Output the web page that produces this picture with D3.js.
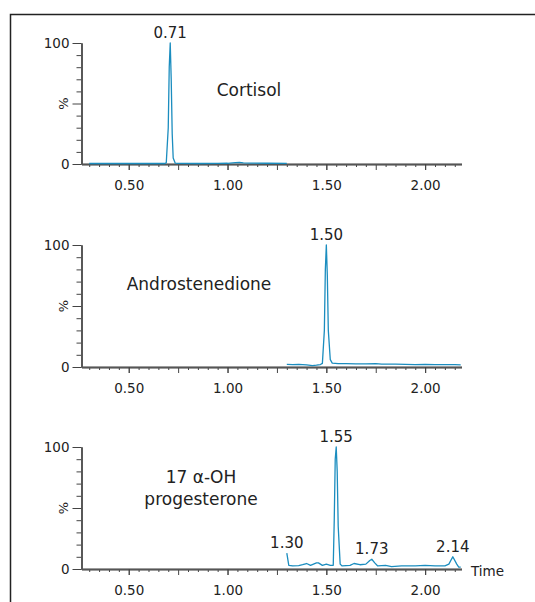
<!DOCTYPE html>
<html>
<head>
<meta charset="utf-8">
<script src="https://cdn.jsdelivr.net/npm/d3@7"></script>
<style>
  body { margin: 0; background: #fff; }
  text { font-family: "DejaVu Sans", Verdana, sans-serif; fill: #222; }
</style>
</head>
<body>
<div id="chart"></div>
<script>
// retention times (min) and relative intensity (%)
const cortisolTime = [0.30, 0.40, 0.50, 0.60, 0.68, 0.69, 0.70, 0.705, 0.71, 0.715, 0.72, 0.725, 0.735, 0.75, 0.85, 0.95, 1.00, 1.04, 1.06, 1.08, 1.12, 1.20, 1.30];
const cortisolPct  = [0.4, 0.4, 0.4, 0.4, 0.4, 1, 30, 80, 100, 70, 25, 5, 0.8, 0.5, 0.4, 0.5, 0.6, 1.1, 1.4, 1.0, 0.8, 0.6, 0.5];

const androTime = [1.30, 1.33, 1.36, 1.40, 1.43, 1.45, 1.47, 1.48, 1.49, 1.495, 1.50, 1.505, 1.51, 1.52, 1.53, 1.56, 1.60, 1.65, 1.70, 1.75, 1.78, 1.85, 1.90, 1.95, 2.00, 2.05, 2.10, 2.15, 2.18];
const androPct  = [2.2, 2.0, 2.1, 1.8, 1.2, 1.5, 2.0, 3, 30, 80, 100, 75, 30, 6, 3.2, 2.8, 2.7, 2.6, 2.5, 2.8, 2.4, 2.3, 2.2, 2.0, 2.1, 2.0, 1.9, 1.9, 1.8];

const ohpTime = [1.30, 1.31, 1.33, 1.36, 1.38, 1.40, 1.42, 1.45, 1.46, 1.48, 1.50, 1.52, 1.535, 1.54, 1.545, 1.55, 1.555, 1.56, 1.57, 1.58, 1.62, 1.64, 1.67, 1.70, 1.72, 1.73, 1.745, 1.76, 1.80, 1.83, 1.88, 1.95, 2.00, 2.05, 2.10, 2.12, 2.14, 2.16, 2.17, 2.18];
const ohpPct  = [13, 3, 2.5, 2.8, 3.5, 4.5, 3, 5, 5, 3, 4, 3, 3, 40, 90, 100, 80, 35, 4, 2.5, 3, 4.5, 3.5, 4, 7, 8, 5, 2.5, 3, 2, 2.5, 2.5, 3, 2.5, 2.5, 4, 10, 4, 1.5, 1.5];

// labelled peaks
const cortisolPeaks = [{t: 0.71, v: 100}];
const androPeaks = [{t: 1.50, v: 100}];
const ohpPeaks = [{t: 1.30, v: 13}, {t: 1.55, v: 100}, {t: 1.73, v: 8}, {t: 2.14, v: 10}];

const xLabelTicks = [0.5, 1.0, 1.5, 2.0];
const yLabelTicks = [0, 100];

const W = 535, H = 602;
const svg = d3.select("#chart").append("svg")
  .attr("width", W).attr("height", H);

// outer frame (continues past the window on right and bottom)
svg.append("rect")
  .attr("x", 10.5).attr("y", 14.5)
  .attr("width", 600).attr("height", 700)
  .attr("fill", "none").attr("stroke", "#222").attr("stroke-width", 1.5);

const x = d3.scaleLinear().domain([0.261, 2.184]).range([81.5, 461.5]);

const minorX = d3.range(6, 44).map(d => d * 0.05).filter(d => Math.abs(d / 0.25 - Math.round(d / 0.25)) > 1e-6);
const majorX = d3.range(2, 9).map(d => d * 0.25);
const minorY = d3.range(10, 100, 10).filter(d => d !== 50);

const panels = [
  {time: cortisolTime, pct: cortisolPct, peaks: cortisolPeaks, top: 43, bottom: 164,
   name: ["Cortisol"], nameX: 249, nameY: 96},
  {time: androTime, pct: androPct, peaks: androPeaks, top: 245, bottom: 367,
   name: ["Androstenedione"], nameX: 199, nameY: 290},
  {time: ohpTime, pct: ohpPct, peaks: ohpPeaks, top: 447, bottom: 569,
   name: ["17 α-OH", "progesterone"], nameX: 201, nameY: 483, time_label: true}
];

panels.forEach(p => {
  const y = d3.scaleLinear().domain([0, 100]).range([p.bottom, p.top]);
  const g = svg.append("g");

  // x axis: minor, major and labelled ticks
  const gx = g.append("g").attr("transform", `translate(0,${p.bottom})`);
  gx.append("g").call(d3.axisBottom(x).tickValues(minorX).tickSize(3).tickSizeOuter(0).tickFormat(""));
  gx.append("g").call(d3.axisBottom(x).tickValues(majorX).tickSize(6).tickSizeOuter(0).tickFormat(""));
  gx.append("g").call(d3.axisBottom(x).tickValues(xLabelTicks).tickSize(6).tickSizeOuter(0)
      .tickPadding(10).tickFormat(d3.format(".2f")));

  // y axis
  const gy = g.append("g").attr("transform", `translate(${x.range()[0]},0)`);
  gy.append("g").call(d3.axisLeft(y).tickValues(minorY).tickSize(5).tickSizeOuter(0).tickFormat(""));
  gy.append("g").call(d3.axisLeft(y).tickValues([50]).tickSize(9).tickSizeOuter(0).tickFormat(""));
  gy.append("g").call(d3.axisLeft(y).tickValues(yLabelTicks).tickSize(9).tickSizeOuter(0).tickPadding(3));

  g.selectAll(".domain").attr("stroke", "#555").attr("stroke-width", 1.4);
  g.selectAll(".tick line").attr("stroke", "#444");
  g.selectAll("g").attr("font-size", 13.5);
  g.selectAll(".tick text").style("font-size", "13.5px").attr("fill", "#222");

  g.append("text")
    .attr("transform", `translate(68,${y(50)}) rotate(-90)`)
    .attr("text-anchor", "middle")
    .style("font-size", "13px")
    .text("%");

  // trace
  const pts = p.time.map((t, i) => [t, p.pct[i]]);
  g.append("path")
    .datum(pts)
    .attr("fill", "none")
    .attr("stroke", "#1b8dbf")
    .attr("stroke-width", 1.3)
    .attr("stroke-linejoin", "round")
    .attr("d", d3.line().x(d => x(d[0])).y(d => y(d[1])));

  // peak labels
  g.selectAll(".peak").data(p.peaks).join("text")
    .attr("x", d => x(d.t))
    .attr("y", d => y(d.v) - 5)
    .attr("text-anchor", "middle")
    .style("font-size", "15px")
    .text(d => d.t.toFixed(2));

  // compound name
  g.append("text")
    .attr("x", p.nameX).attr("y", p.nameY)
    .attr("text-anchor", "middle")
    .style("font-size", "17px")
    .selectAll("tspan").data(p.name).join("tspan")
      .attr("x", p.nameX)
      .attr("dy", (d, i) => i === 0 ? 0 : 22)
      .text(d => d);

  if (p.time_label) {
    g.append("text")
      .attr("x", 471).attr("y", p.bottom + 7)
      .style("font-size", "13.5px")
      .text("Time");
  }
});
</script>
</body>
</html>
